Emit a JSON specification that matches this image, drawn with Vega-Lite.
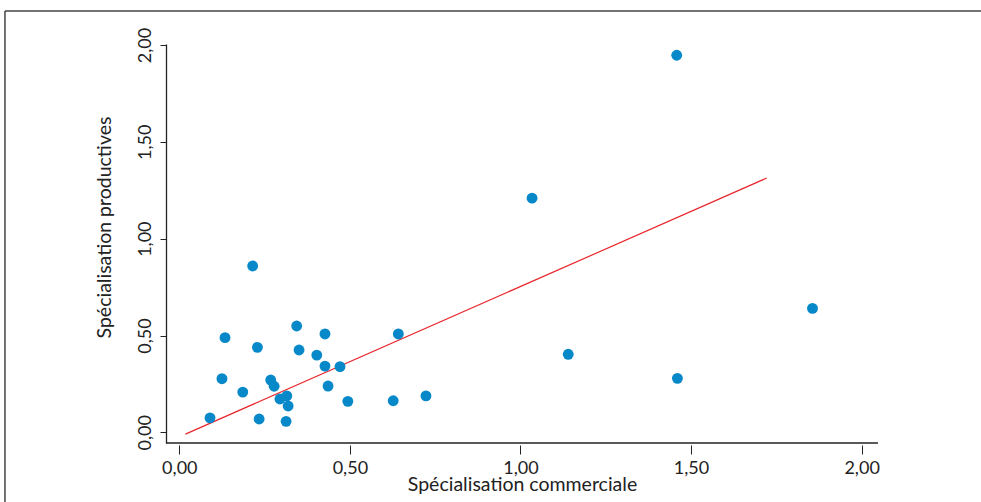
{
  "$schema": "https://vega.github.io/schema/vega-lite/v6.json",
  "autosize": {"type": "none"},
  "width": 712,
  "height": 399,
  "padding": {"left": 166, "top": 44, "right": 103, "bottom": 59},
  "background": "white",
  "config": {
    "view": {"stroke": null},
    "font": "Lato",
    "axis": {"grid": false, "labelFont": "Lato", "titleFont": "Lato", "labelColor": "#222", "titleColor": "#222", "titleFontWeight": "normal", "domainColor": "#222", "tickColor": "#222"}
  },
  "layer": [
    {
      "data": {"values": [{}]},
      "mark": {"type": "rule", "color": "#444", "strokeWidth": 1.5, "clip": false},
      "encoding": {
        "x": {"datum": -0.511, "type": "quantitative", "scale": {"domain": [-0.039, 2.048], "nice": false, "zero": false}},
        "x2": {"datum": 2.6},
        "y": {"datum": 2.176, "type": "quantitative", "scale": {"domain": [-0.055, 2.005], "nice": false, "zero": false}}
      }
    },
    {
      "data": {"values": [{}]},
      "mark": {"type": "rule", "color": "#444", "strokeWidth": 1.5, "clip": false},
      "encoding": {
        "x": {"datum": -0.511, "type": "quantitative"},
        "y": {"datum": 2.176, "type": "quantitative"},
        "y2": {"datum": -0.6}
      }
    },
    {
      "data": {"values": [{}]},
      "mark": {"type": "rule", "color": "#222", "strokeWidth": 1.3, "clip": false},
      "encoding": {
        "x": {"datum": -0.039, "type": "quantitative"},
        "x2": {"datum": 2.048},
        "y": {"datum": -0.055, "type": "quantitative"}
      }
    },
    {
      "data": {"values": [{"x": 0.018, "y": -0.009}, {"x": 1.722, "y": 1.313}]},
      "mark": {"type": "line", "color": "#e8262b", "strokeWidth": 1.2},
      "encoding": {
        "x": {"field": "x", "type": "quantitative"},
        "y": {"field": "y", "type": "quantitative"}
      }
    },
    {
      "data": {"values": [
        {"x": 0.090, "y": 0.075}, {"x": 0.125, "y": 0.277}, {"x": 0.134, "y": 0.489}, {"x": 0.186, "y": 0.208},
        {"x": 0.215, "y": 0.859}, {"x": 0.229, "y": 0.439}, {"x": 0.234, "y": 0.069}, {"x": 0.268, "y": 0.270},
        {"x": 0.278, "y": 0.238}, {"x": 0.295, "y": 0.172}, {"x": 0.315, "y": 0.188}, {"x": 0.313, "y": 0.057},
        {"x": 0.319, "y": 0.136}, {"x": 0.344, "y": 0.549}, {"x": 0.351, "y": 0.425}, {"x": 0.403, "y": 0.399},
        {"x": 0.427, "y": 0.508}, {"x": 0.427, "y": 0.342}, {"x": 0.436, "y": 0.239}, {"x": 0.471, "y": 0.339},
        {"x": 0.494, "y": 0.160}, {"x": 0.627, "y": 0.163}, {"x": 0.642, "y": 0.508}, {"x": 0.723, "y": 0.188},
        {"x": 1.034, "y": 1.209}, {"x": 1.140, "y": 0.403}, {"x": 1.460, "y": 0.279}, {"x": 1.458, "y": 1.947},
        {"x": 1.856, "y": 0.640}
      ]},
      "mark": {"type": "circle", "color": "#0788c8", "opacity": 1, "size": 118},
      "encoding": {
        "x": {
          "field": "x", "type": "quantitative",
          "axis": {
            "title": "Spécialisation commerciale", "titleFontSize": 19.5, "titleX": 356, "titleY": 45.5, "titleBaseline": "alphabetic", "titleAlign": "center",
            "values": [0, 0.5, 1, 1.5, 2], "labelExpr": "replace(format(datum.value, '.2f'), '.', ',')",
            "labelFontSize": 18, "labelBaseline": "alphabetic", "labelPadding": 19, "tickSize": 9, "offset": 2, "domain": false, "labelFlush": false
          }
        },
        "y": {
          "field": "y", "type": "quantitative",
          "axis": {
            "title": "Spécialisation productives", "titleFontSize": 19.5, "titleX": -56, "titleY": 183, "titleBaseline": "alphabetic", "titleAlign": "center", "titleAngle": -90,
            "values": [0, 0.5, 1, 1.5, 2], "labelExpr": "replace(format(datum.value, '.2f'), '.', ',')",
            "labelFontSize": 18, "labelAngle": -90, "labelAlign": "center", "labelBaseline": "alphabetic", "labelPadding": 10, "tickSize": 6, "domainWidth": 1.3, "labelFlush": false
          }
        }
      }
    }
  ]
}
